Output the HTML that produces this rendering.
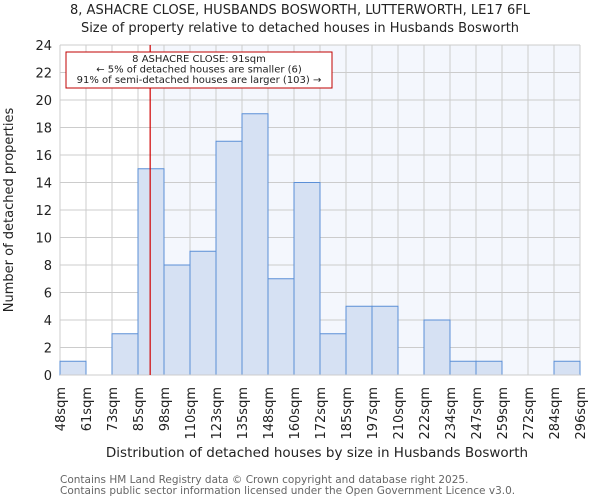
<!DOCTYPE html>
<html><head><meta charset="utf-8"><style>
body{margin:0;background:#fff;font-family:"DejaVu Sans","Liberation Sans",sans-serif;}
svg text{font-family:"DejaVu Sans","Liberation Sans",sans-serif;}
</style></head><body>
<svg id="c" width="600" height="500" xmlns="http://www.w3.org/2000/svg">
<text x="300" y="14" text-anchor="middle" font-size="13" fill="#222">8, ASHACRE CLOSE, HUSBANDS BOSWORTH, LUTTERWORTH, LE17 6FL</text>
<text x="300" y="32" text-anchor="middle" font-size="13" fill="#222">Size of property relative to detached houses in Husbands Bosworth</text>
<g id="plot"></g>
<text x="317" y="457" text-anchor="middle" font-size="13.5" fill="#222">Distribution of detached houses by size in Husbands Bosworth</text>
<text transform="translate(13,210) rotate(-90)" text-anchor="middle" font-size="13" fill="#222">Number of detached properties</text>
<text x="60" y="483" font-size="10.5" fill="#666">Contains HM Land Registry data © Crown copyright and database right 2025.</text>
<text x="60" y="494" font-size="10.5" fill="#666">Contains public sector information licensed under the Open Government Licence v3.0.</text>
</svg>
<script>
const binLabels=["48sqm","61sqm","73sqm","85sqm","98sqm","110sqm","123sqm","135sqm","148sqm","160sqm","172sqm","185sqm","197sqm","210sqm","222sqm","234sqm","247sqm","259sqm","272sqm","284sqm","296sqm"];
const counts=[1,0,3,15,8,9,17,19,7,14,3,5,5,0,4,1,1,0,0,1];
const yTicks=[0,2,4,6,8,10,12,14,16,18,20,22,24];
const binStart=48, binEnd=296, subjectSize=91;
const L=60,R=580,T=45,B=375,yMax=24;
const ns="http://www.w3.org/2000/svg";
const g=document.getElementById('plot');
const bw=(R-L)/counts.length;
const xb=i=>L+i*bw;
const xv=v=>L+(v-binStart)/(binEnd-binStart)*(R-L);
const y=v=>B-v/yMax*(B-T);
function mk(tag,a){const e=document.createElementNS(ns,tag);for(const k in a)e.setAttribute(k,a[k]);g.appendChild(e);return e;}
const sx=xv(subjectSize);
let e=mk('rect',{x:sx,y:T,width:R-sx,height:B-T,fill:'#f4f7fd'});


for(let i=0;i<=counts.length;i++){e=mk('line',{x1:xb(i),x2:xb(i),y1:T,y2:B,stroke:'#cccccc','stroke-width':1});

}
yTicks.forEach(t=>{e=mk('line',{x1:L,x2:R,y1:y(t),y2:y(t),stroke:'#cccccc','stroke-width':1});


e=mk('text',{x:L-8,y:y(t)+5,'text-anchor':'end','font-size':13,fill:'#222'});e.textContent=t;

});
counts.forEach((c,i)=>{if(c<=0)return;e=mk('rect',{x:xb(i),y:y(c),width:bw,height:y(0)-y(c),fill:'#d6e1f3',stroke:'#5b8fd6','stroke-width':1});

});
binLabels.forEach((l,i)=>{const x=xb(i);e=mk('text',{transform:`translate(${x+5},${B+12}) rotate(-90)`,'text-anchor':'end','font-size':13,fill:'#222'});e.textContent=l;

});
e=mk('line',{x1:L,x2:R,y1:B,y2:B,stroke:'#cccccc'});


e=mk('line',{x1:sx,x2:sx,y1:T,y2:B,stroke:'#d00000','stroke-width':1.2});


e=mk('rect',{x:66,y:52,width:266,height:36,fill:'#fff',stroke:'#c00000','stroke-width':1});


["8 ASHACRE CLOSE: 91sqm","← 5% of detached houses are smaller (6)","91% of semi-detached houses are larger (103) →"].forEach((s,i)=>{e=mk('text',{x:199,y:62+i*10.5,'text-anchor':'middle','font-size':10,fill:'#222'});e.textContent=s;

});
</script>
</body></html>
